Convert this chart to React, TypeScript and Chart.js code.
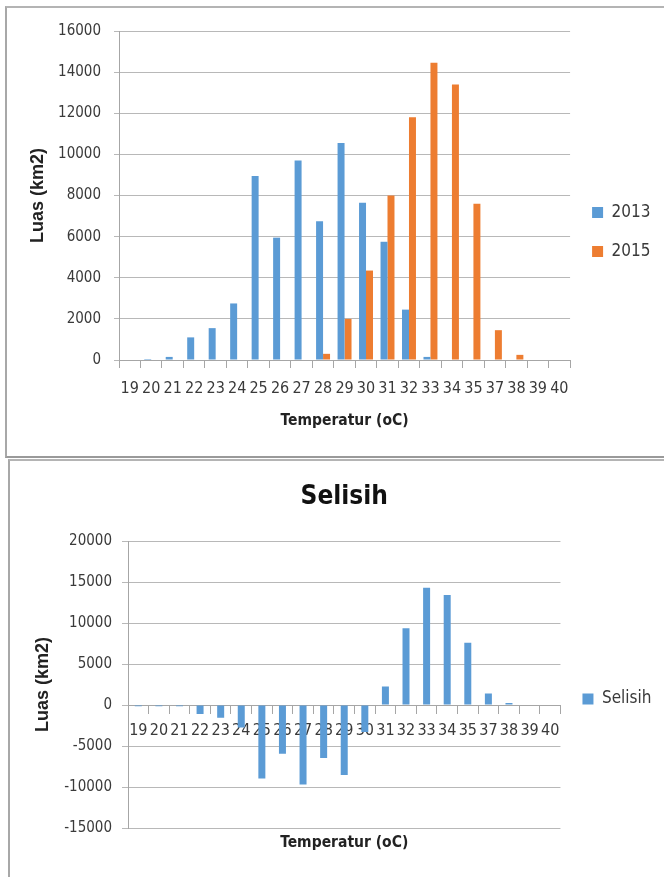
import React, { useEffect, useRef } from 'react';
import { Chart, registerables } from 'chart.js';

Chart.register(...registerables);

const categories = ['19', '20', '21', '22', '23', '24', '25', '26', '27', '28', '29', '30', '31', '32', '33', '34', '35', '37', '38', '39', '40'];
const luas2013 = [0, 50, 150, 1100, 1550, 2750, 8950, 5950, 9700, 6750, 10550, 7650, 5750, 2450, 150, 0, 0, 0, 0, 0, 0];
const luas2015 = [0, 0, 0, 0, 0, 0, 0, 0, 0, 300, 2000, 4350, 8000, 11800, 14450, 13400, 7600, 1450, 250, 0, 0];
const selisih = [-150, -150, -150, -1100, -1550, -2750, -8950, -5950, -9700, -6450, -8550, -3300, 2250, 9350, 14300, 13400, 7600, 1400, 250, 0, 0];

const topYTicks = { min: 0, max: 16000, step: 2000 };
const bottomYTicks = { min: -15000, max: 20000, step: 5000 };

const NARROW = "'Liberation Sans Narrow', 'DejaVu Sans Condensed', 'Liberation Sans', sans-serif";
const WIDE = "'Liberation Sans', 'DejaVu Sans', sans-serif";
const BLUE = '#5B9BD5';
const ORANGE = '#ED7D31';
const GRID = '#b8b8b8';
const AXIS = '#a6a6a6';
const TICK_TEXT = '#3a3a3a';
const TITLE_TEXT = '#222222';

function useChart(ref: React.RefObject<HTMLCanvasElement>, makeConfig: () => any) {
  useEffect(() => {
    if (!ref.current) return;
    const chart = new Chart(ref.current, makeConfig());
    return () => chart.destroy();
  }, []);
}

function topConfig() {
  return {
    type: 'bar',
    data: {
      labels: categories,
      datasets: [
        { label: '2013', data: luas2013, backgroundColor: BLUE, categoryPercentage: 0.65, barPercentage: 1 },
        { label: '2015', data: luas2015, backgroundColor: ORANGE, categoryPercentage: 0.65, barPercentage: 1 },
      ],
    },
    options: {
      animation: false,
      responsive: false,
      maintainAspectRatio: false,
      layout: { padding: { top: 0, right: 3.5, bottom: 0, left: 0 } },
      plugins: {
        title: { display: true, text: '', fullSize: false, font: { size: 10, lineHeight: 1 }, padding: { top: 11, bottom: 0 } },
        legend: {
          position: 'right',
          align: 'center',
          labels: { boxWidth: 11, boxHeight: 11, padding: 22, color: TICK_TEXT, font: { family: NARROW, size: 17 } },
        },
        tooltip: { enabled: false },
      },
      scales: {
        x: {
          grid: { display: true, drawOnChartArea: false, drawTicks: true, tickLength: 8, color: AXIS, offset: true },
          border: { display: true, color: AXIS },
          ticks: { autoSkip: false, maxRotation: 0, minRotation: 0, padding: 11, color: TICK_TEXT, font: { family: NARROW, size: 16 } },
          title: { display: true, text: 'Temperatur (oC)', color: TITLE_TEXT, font: { family: NARROW, size: 15.5, weight: 'bold', lineHeight: 1.2 }, padding: { top: 0, bottom: 25 } },
          afterFit: (s: any) => { s.height = 95; },
        },
        y: {
          min: topYTicks.min,
          max: topYTicks.max,
          ticks: { stepSize: topYTicks.step, padding: 13, color: TICK_TEXT, font: { family: NARROW, size: 15 }, callback: (v: any) => String(v) },
          grid: { color: GRID, tickLength: 5 },
          border: { display: true, color: AXIS },
          title: { display: true, text: 'Luas (km2)', color: TITLE_TEXT, font: { family: WIDE, size: 18, weight: 'bold', lineHeight: 1.2 }, padding: { top: 19, bottom: 0 } },
          afterFit: (s: any) => { s.width = 111; },
        },
      },
    },
  };
}

function bottomConfig() {
  return {
    type: 'bar',
    data: {
      labels: categories,
      datasets: [
        { label: 'Selisih', data: selisih, backgroundColor: BLUE, categoryPercentage: 0.34, barPercentage: 1 },
      ],
    },
    options: {
      animation: false,
      responsive: false,
      maintainAspectRatio: false,
      layout: { padding: { top: 0, right: 2.5, bottom: 0, left: 0 } },
      plugins: {
        title: { display: true, text: 'Selisih', fullSize: false, color: '#111', font: { family: NARROW, size: 26, weight: 'bold', lineHeight: 1.2 }, padding: { top: 19.4, bottom: 28.4 } },
        subtitle: { display: true, position: 'bottom', text: 'Temperatur (oC)', fullSize: false, color: TITLE_TEXT, font: { family: NARROW, size: 15.5, weight: 'bold', lineHeight: 1.2 }, padding: { top: 5.7, bottom: 24.7 } },
        legend: {
          position: 'right',
          align: 'center',
          title: { display: true, text: '', font: { size: 10, lineHeight: 1 }, padding: { top: 0, bottom: 49 } },
          labels: { boxWidth: 11, boxHeight: 11, padding: 22, color: TICK_TEXT, font: { family: NARROW, size: 17 } },
        },
        tooltip: { enabled: false },
      },
      scales: {
        x: {
          position: { y: 0 },
          grid: { display: true, drawOnChartArea: false, drawTicks: true, tickLength: 8, color: AXIS, offset: true },
          border: { display: true, color: AXIS },
          ticks: { autoSkip: false, maxRotation: 0, minRotation: 0, padding: 8, color: TICK_TEXT, font: { family: NARROW, size: 16 } },
          afterFit: (s: any) => { s.height = 0; },
        },
        y: {
          min: bottomYTicks.min,
          max: bottomYTicks.max,
          ticks: { stepSize: bottomYTicks.step, padding: 10, color: TICK_TEXT, font: { family: NARROW, size: 15 }, callback: (v: any) => String(v) },
          grid: { color: GRID, tickLength: 6 },
          border: { display: true, color: AXIS },
          title: { display: true, text: 'Luas (km2)', color: TITLE_TEXT, font: { family: WIDE, size: 18, weight: 'bold', lineHeight: 1.2 }, padding: { top: 22, bottom: 0 } },
          afterFit: (s: any) => { s.width = 118; },
        },
      },
    },
  };
}

export default function App() {
  const topRef = useRef<HTMLCanvasElement>(null);
  const bottomRef = useRef<HTMLCanvasElement>(null);
  useChart(topRef, topConfig);
  useChart(bottomRef, bottomConfig);

  return (
    <div style={{ position: 'absolute', left: 0, top: 0, width: 664, height: 877, overflow: 'hidden', background: '#fff' }}>
      <div style={{ position: 'absolute', left: 5, top: 6, width: 720, height: 452, boxSizing: 'border-box', borderLeft: '2px solid #a8a8a8', borderTop: '2px solid #b4b4b4', borderBottom: '2px solid #9a9a9a' }} />
      <div style={{ position: 'absolute', left: 8, top: 459, width: 720, height: 500, boxSizing: 'border-box', borderLeft: '2px solid #a8a8a8', borderTop: '2px solid #b4b4b4' }} />
      <canvas ref={topRef} width={656} height={446} style={{ position: 'absolute', left: 8, top: 9, width: 656, height: 446, display: 'block' }} />
      <canvas ref={bottomRef} width={654} height={415} style={{ position: 'absolute', left: 10, top: 462, width: 654, height: 415, display: 'block' }} />
    </div>
  );
}
